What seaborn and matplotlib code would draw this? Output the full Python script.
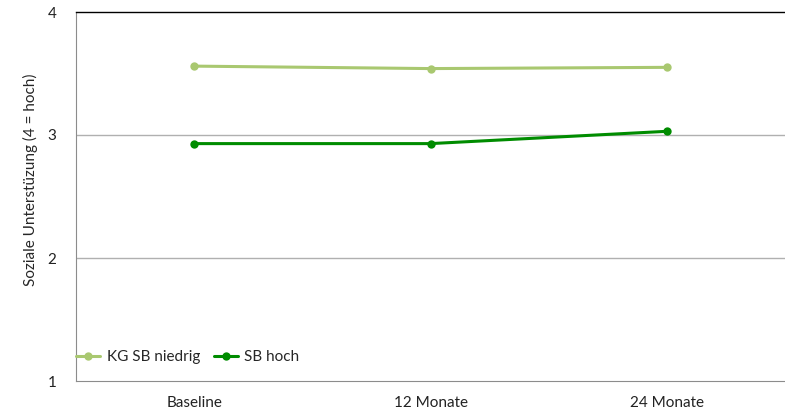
import matplotlib
matplotlib.use("Agg")
import matplotlib.pyplot as plt
import seaborn as sns
import pandas as pd

zeitpunkte = ["Baseline", "12 Monate", "24 Monate"]
kg_niedrig = [3.56, 3.54, 3.55]
sb_hoch = [2.93, 2.93, 3.03]
gruppen = ["KG SB niedrig", "SB hoch"]
farben = ["#A9C870", "#008C00"]

df = pd.DataFrame({
    "Zeit": zeitpunkte * 2,
    "Wert": kg_niedrig + sb_hoch,
    "Gruppe": [gruppen[0]] * 3 + [gruppen[1]] * 3,
})
df["x"] = [0, 1, 2] * 2

sns.set_style("white")
plt.rcParams["font.family"] = ["Lato", "DejaVu Sans"]

fig = plt.figure(figsize=(7.85, 4.19), dpi=100)
ax = fig.add_axes([76 / 785, 1 - 381 / 419, 1 - 76 / 785, (381 - 12) / 419])

sns.lineplot(data=df, x="x", y="Wert", hue="Gruppe", palette=farben,
             marker="o", markersize=6, markeredgewidth=0, linewidth=2.2,
             ax=ax, legend=True)

ax.set_xlim(-0.5, 2.5)
ax.set_ylim(1, 4)
ax.set_xticks([0, 1, 2])
ax.set_xticklabels(zeitpunkte)
ax.set_yticks([1, 2, 3, 4])
ax.set_yticklabels(["1", "2", "3", "4"])
ax.tick_params(axis="both", length=0, labelsize=11, colors="#222222")
ax.tick_params(axis="x", pad=11)
ax.tick_params(axis="y", pad=14)
ax.set_xlabel("")
ax.set_ylabel("Soziale Unterstüzung (4 = hoch)", fontsize=11)
ax.yaxis.set_label_coords(-0.054, 0.545)

for y in [2, 3]:
    ax.axhline(y, color="#B0B0B0", linewidth=1, zorder=0)

ax.spines["top"].set_color("black")
ax.spines["top"].set_linewidth(1)
ax.spines["right"].set_visible(False)
ax.spines["left"].set_color("#8C8C8C")
ax.spines["bottom"].set_color("#8C8C8C")

leg = ax.legend(loc="center left", ncol=2, frameon=False, fontsize=11,
                bbox_to_anchor=(0, 0.065), borderaxespad=0, borderpad=0,
                handlelength=1.6, handletextpad=0.4, columnspacing=0.9)

fig.savefig("out.png", dpi=100)
